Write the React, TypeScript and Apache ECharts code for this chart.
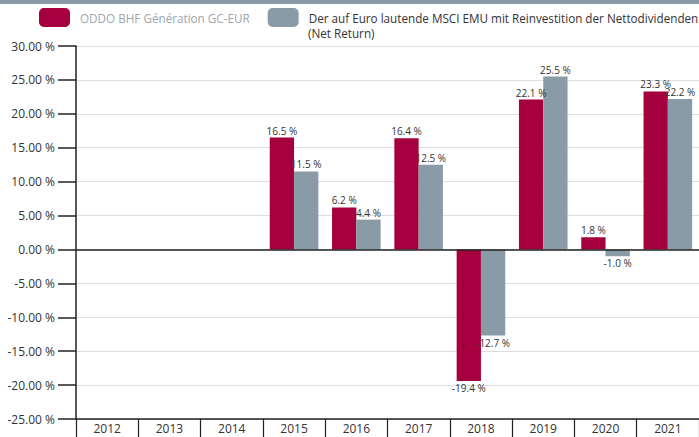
import React, { useEffect, useRef } from "react";
import * as echarts from "echarts";

const years = ["2012", "2013", "2014", "2015", "2016", "2017", "2018", "2019", "2020", "2021"];
const oddoValues: (number | null)[] = [null, null, null, 16.5, 6.2, 16.4, -19.4, 22.1, 1.8, 23.3];
const msciValues: (number | null)[] = [null, null, null, 11.5, 4.4, 12.5, -12.7, 25.5, -1.0, 22.2];
const seriesNames = ["ODDO BHF Génération GC-EUR", "Der auf Euro lautende MSCI EMU mit Reinvestition der Nettodividenden"];
const legendSecondLine = "(Net Return)";

const FONT = "Open Sans";
const RED = "#A5003D";
const GRAY = "#8A9BA8";

export default function App() {
  const ref = useRef<HTMLDivElement>(null);
  useEffect(() => {
    document.body.style.margin = "0";
    if (!ref.current) return;
    const chart = echarts.init(ref.current, undefined, { renderer: "svg" });
    const labelFor = (v: number | null) => ({
      value: v,
      label: { position: v !== null && v < 0 ? "bottom" : "top" },
    });
    const barLabel = {
      show: true,
      fontFamily: FONT,
      fontSize: 10,
      color: "#333",
      distance: 2,
      formatter: (p: any) => (p.value === null || p.value === undefined ? "" : Number(p.value).toFixed(1) + " %"),
    };
    chart.setOption({
      animation: false,
      textStyle: { fontFamily: FONT },
      graphic: [
        { type: "rect", left: 0, top: 0, shape: { width: 699, height: 4 }, style: { fill: GRAY } },
        {
          type: "text",
          left: 308,
          top: 27,
          style: { text: legendSecondLine, fontFamily: FONT, fontSize: 11.7, fill: "#333" },
        },
      ],
      legend: {
        left: 39,
        top: 8,
        padding: 0,
        width: 690,
        itemWidth: 31,
        itemHeight: 19,
        itemGap: 18,
        icon: "roundRect",
        selectedMode: false,
        textStyle: { fontFamily: FONT, fontSize: 11.7, padding: [0, 0, 0, 5] },
        data: [
          { name: seriesNames[0], textStyle: { color: "#9BA6AF" } },
          { name: seriesNames[1], textStyle: { color: "#333" } },
        ],
      },
      grid: { left: 76, right: -3, top: 46, bottom: 18, containLabel: false },
      xAxis: {
        type: "category",
        data: years,
        axisLine: { show: true, onZero: false, lineStyle: { color: "#222", width: 1.5 } },
        axisTick: { show: true, length: 18, lineStyle: { color: "#222", width: 1.2 } },
        axisLabel: { fontFamily: FONT, fontSize: 12, color: "#333", margin: 3 },
      },
      yAxis: {
        type: "value",
        min: -25,
        max: 30,
        interval: 5,
        axisLine: { show: true, lineStyle: { color: "#222", width: 1.5 } },
        axisTick: { show: true, length: 18, lineStyle: { color: "#222", width: 1.5 } },
        axisLabel: {
          fontFamily: FONT,
          fontSize: 12,
          color: "#333",
          margin: 21,
          formatter: (v: number) => v.toFixed(2) + " %",
        },
        splitLine: { lineStyle: { color: "#DDDDDD", width: 1 } },
      },
      series: [
        {
          name: seriesNames[0],
          type: "bar",
          data: oddoValues.map(labelFor),
          itemStyle: { color: RED },
          barGap: "0%",
          barCategoryGap: "22%",
          label: barLabel,
          markLine: {
            silent: true,
            symbol: "none",
            label: { show: false },
            lineStyle: { color: "#222", width: 1.5, type: "solid" },
            data: [{ yAxis: 0 }],
          },
        },
        {
          name: seriesNames[1],
          type: "bar",
          data: msciValues.map(labelFor),
          itemStyle: { color: GRAY },
          barGap: "0%",
          barCategoryGap: "22%",
          label: barLabel,
        },
      ],
    });
    return () => chart.dispose();
  }, []);
  return <div ref={ref} style={{ width: 699, height: 437 }} />;
}
